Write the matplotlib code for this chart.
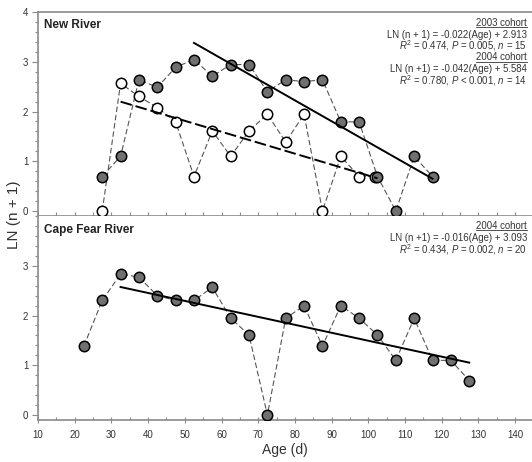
import numpy as np
import matplotlib.pyplot as plt
from matplotlib.lines import Line2D
from matplotlib.ticker import MultipleLocator

plt.rcParams['font.family'] = 'Liberation Sans'
plt.rcParams['mathtext.fontset'] = 'custom'
plt.rcParams['mathtext.rm'] = 'Liberation Sans'
plt.rcParams['mathtext.it'] = 'Liberation Sans:italic'

# New River, 2003 cohort (open circles)
age_nr03 = [27.5, 32.5, 37.5, 42.5, 47.5, 52.5, 57.5, 62.5, 67.5, 72.5,
            77.5, 82.5, 87.5, 92.5, 97.5, 101.8]
ln_nr03 = [0.0, 2.565, 2.303, 2.079, 1.792, 0.693, 1.609, 1.099, 1.609, 1.946,
           1.386, 1.946, 0.0, 1.099, 0.693, 0.693]

# New River, 2004 cohort (filled circles)
age_nr04 = [27.5, 32.5, 37.5, 42.5, 47.5, 52.5, 57.5, 62.5, 67.5, 72.5,
            77.5, 82.5, 87.5, 92.5, 97.5, 102.5, 107.5, 112.5, 117.5]
ln_nr04 = [0.693, 1.099, 2.639, 2.485, 2.890, 3.045, 2.708, 2.944, 2.944, 2.398,
           2.639, 2.600, 2.639, 1.792, 1.792, 0.693, 0.0, 1.099, 0.693]

# Cape Fear River, 2004 cohort
age_cf04 = [22.5, 27.5, 32.5, 37.5, 42.5, 47.5, 52.5, 57.5, 62.5, 67.5, 72.5,
            77.5, 82.5, 87.5, 92.5, 97.5, 102.5, 107.5, 112.5, 117.5, 122.5, 127.5]
ln_cf04 = [1.386, 2.303, 2.833, 2.773, 2.398, 2.303, 2.303, 2.565, 1.946, 1.609, 0.0,
           1.946, 2.197, 1.386, 2.197, 1.946, 1.609, 1.099, 1.946, 1.099, 1.099, 0.693]

# regression fits: slope, intercept, age range
fit_nr03 = (-0.022, 2.913, 32.5, 102.5)
fit_nr04 = (-0.042, 5.584, 52.5, 117.5)
fit_cf04 = (-0.016, 3.093, 32.5, 127.5)

W, H = 532, 462
fig = plt.figure(figsize=(W / 100, H / 100), dpi=100)
ax1 = fig.add_axes([38 / W, 1 - 216 / H, 1 - 38 / W, 204 / H])
ax2 = fig.add_axes([38 / W, 1 - 420 / H, 1 - 38 / W, 204 / H])

spine_col = '#8a8a8a'
txt_col = '#333333'
fill_col = '#707070'
ms = 7.5

def connect(ax, x, y, face):
    ax.plot(x, y, ls=(0, (5, 2.5)), lw=0.8, color='#555555', zorder=2)
    ax.plot(x, y, ls='none', marker='o', ms=ms, mfc=face, mec='black',
            mew=1.1, zorder=3)

def fit_line(ax, fit, ls):
    b, a, x0, x1 = fit
    xx = np.array([x0, x1])
    ax.plot(xx, a + b * xx, color='black', lw=1.4, ls=ls, zorder=4)

connect(ax1, age_nr03, ln_nr03, 'white')
connect(ax1, age_nr04, ln_nr04, fill_col)
fit_line(ax1, fit_nr03, (0, (6, 2)))
fit_line(ax1, fit_nr04, '-')

connect(ax2, age_cf04, ln_cf04, fill_col)
fit_line(ax2, fit_cf04, '-')

for ax in (ax1, ax2):
    ax.set_xlim(10, 144.6)
    ax.set_ylim(-0.1, 4.0)
    ax.spines['right'].set_visible(False)
    for s in ('left', 'top', 'bottom'):
        ax.spines[s].set_color(spine_col)
        ax.spines[s].set_linewidth(1.2)
    ax.yaxis.set_major_locator(MultipleLocator(1))
    ax.yaxis.set_minor_locator(MultipleLocator(0.2))
    ax.xaxis.set_major_locator(MultipleLocator(10))
    ax.xaxis.set_minor_locator(MultipleLocator(5))
    ax.tick_params(axis='y', which='major', length=4, width=0.8,
                   color=spine_col, labelsize=7, labelcolor=txt_col, pad=3)
    ax.tick_params(axis='y', which='minor', length=2.5, width=0.8, color=spine_col)

ax1.tick_params(axis='x', which='both', direction='in', length=3, width=0.8,
                color=spine_col, labelbottom=False)
ax2.tick_params(axis='x', which='major', direction='inout', length=5, width=0.8,
                color=spine_col, labelsize=7, labelcolor=txt_col, pad=5)
ax2.tick_params(axis='x', which='minor', direction='in', length=2.5, width=0.8,
                color=spine_col)
ax2.set_yticks([0, 1, 2, 3])
ax2.spines['top'].set_visible(False)

ax2.set_xlabel('Age (d)', fontsize=10, color=txt_col, labelpad=2)
fig.text(14 / W, 1 - 215 / H, 'LN (n + 1)', rotation=90, fontsize=11,
         color=txt_col, ha='center', va='center')

def yfrac(py, top, bottom):
    return (bottom - py) / (bottom - top)

ax1.text(6 / 494, yfrac(25, 12, 216), 'New River', transform=ax1.transAxes,
         fontsize=8.5, fontweight='bold', color='#222222', va='center')
ax2.text(6 / 494, yfrac(230, 216, 420), 'Cape Fear River', transform=ax2.transAxes,
         fontsize=8.5, fontweight='bold', color='#222222', va='center')

xr = (527 - 38) / 494
stats_nr = [
    ('2003 cohort', 22.7, True),
    ('LN (n + 1) = -0.022(Age) + 2.913', 34.5, False),
    (r'$R^2$ = 0.474, $P$ = 0.005, $n$ = 15', 46, False),
    ('2004 cohort', 57.5, True),
    ('LN (n +1) = -0.042(Age) + 5.584', 69, False),
    (r'$R^2$ = 0.780, $P$ < 0.001, $n$ = 14', 80.5, False),
]
stats_cf = [
    ('2004 cohort', 226, True),
    ('LN (n +1) = -0.016(Age) + 3.093', 238.3, False),
    (r'$R^2$ = 0.434, $P$ = 0.002, $n$ = 20', 250, False),
]

underlined = []
for s, py, ul in stats_nr:
    t = ax1.text(xr, yfrac(py, 12, 216), s, transform=ax1.transAxes, fontsize=6.9,
                 color=txt_col, ha='right', va='center')
    if ul:
        underlined.append(t)
for s, py, ul in stats_cf:
    t = ax2.text(xr, yfrac(py, 216, 420), s, transform=ax2.transAxes, fontsize=6.9,
                 color=txt_col, ha='right', va='center')
    if ul:
        underlined.append(t)

# underline the cohort headings
fig.canvas.draw()
renderer = fig.canvas.get_renderer()
inv = fig.transFigure.inverted()
for t in underlined:
    bb = t.get_window_extent(renderer)
    (x0, y0), (x1, _) = inv.transform([[bb.x0, bb.y0 + 1], [bb.x1, bb.y0 + 1]])
    fig.add_artist(Line2D([x0, x1], [y0, y0], transform=fig.transFigure,
                          color=txt_col, lw=0.6))

fig.savefig('out.png', dpi=100)
